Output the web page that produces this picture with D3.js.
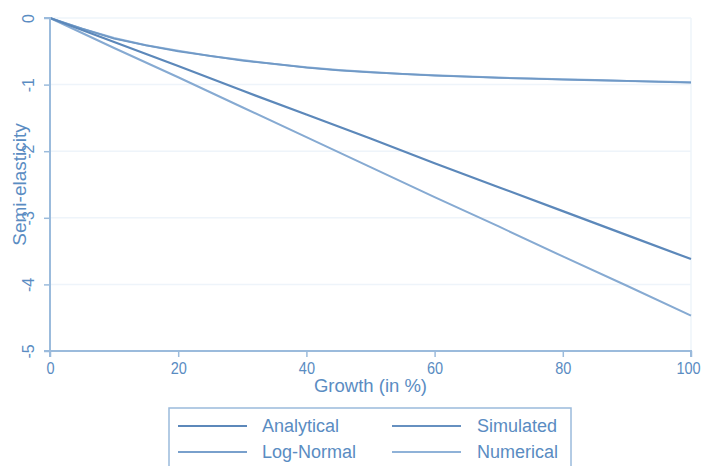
<!DOCTYPE html>
<html>
<head>
<meta charset="utf-8">
<script src="https://cdn.jsdelivr.net/npm/d3@7"></script>
<style>
  html, body { margin: 0; padding: 0; background: #ffffff; }
  svg { display: block; font-family: "Liberation Sans", Arial, sans-serif; }
</style>
</head>
<body>
<svg id="chart" width="702" height="466"></svg>
<script>
// Growth rates (in %) at which each semi-elasticity was evaluated
const growthFine = [0, 5, 10, 15, 20, 25, 30, 35, 40, 45, 50, 55, 60, 65, 70, 75, 80, 85, 90, 95, 100];
const growthCoarse = [0, 10, 20, 30, 40, 50, 60, 70, 80, 90, 100];

// Semi-elasticity estimates per method
const analytical = [0, -0.36, -0.72, -1.09, -1.45, -1.81, -2.18, -2.54, -2.90, -3.26, -3.62];
const logNormal  = [0, -0.45, -0.89, -1.34, -1.79, -2.24, -2.69, -3.13, -3.58, -4.02, -4.47];
const simulated  = [0, -0.16, -0.31, -0.41, -0.50, -0.57, -0.64, -0.69, -0.745, -0.785, -0.815,
                    -0.84, -0.865, -0.88, -0.90, -0.91, -0.925, -0.935, -0.945, -0.96, -0.97];
const numerical  = [0, -0.16, -0.30, -0.41, -0.49, -0.57, -0.63, -0.69, -0.74, -0.78, -0.81,
                    -0.84, -0.86, -0.88, -0.895, -0.91, -0.92, -0.93, -0.945, -0.955, -0.965];

// Axis ticks
const xTicks = [0, 20, 40, 60, 80, 100];
const yTicks = [0, -1, -2, -3, -4, -5];

const legendNames = ["Analytical", "Simulated", "Log-Normal", "Numerical"];

const textColor = "#5a8cc2";
const axisColor = "#9bbbdc";
const gridColor = "#eef4fa";

const series = [
  { name: "Numerical",  x: growthFine,   y: numerical,  color: "#8fb2d8", width: 2 },
  { name: "Simulated",  x: growthFine,   y: simulated,  color: "#7099c6", width: 1.8 },
  { name: "Log-Normal", x: growthCoarse, y: logNormal,  color: "#86aad2", width: 2 },
  { name: "Analytical", x: growthCoarse, y: analytical, color: "#5c88ba", width: 2.2 }
];

const svg = d3.select("#chart");
const plotLeft = 50, plotRight = 691, plotTop = 18, plotBottom = 351;

const x = d3.scaleLinear().domain([0, 100]).range([plotLeft, plotRight]);
const y = d3.scaleLinear().domain([-5, 0]).range([plotBottom, plotTop]);

// Plain hyphen for negative tick labels
const plainFormat = d => String(d);

// Horizontal grid lines and faint plot frame
svg.append("g").selectAll("line").data(yTicks.filter(d => d !== -5)).join("line")
  .attr("x1", plotLeft).attr("x2", plotRight)
  .attr("y1", d => y(d)).attr("y2", d => y(d))
  .attr("stroke", gridColor).attr("stroke-width", 1.5);
svg.append("line")
  .attr("x1", plotRight).attr("x2", plotRight).attr("y1", plotTop).attr("y2", plotBottom)
  .attr("stroke", gridColor).attr("stroke-width", 1.5);

// Series lines
const line = d3.line();
series.forEach(s => {
  svg.append("path")
    .attr("d", line(s.x.map((g, i) => [x(g), y(s.y[i])])))
    .attr("fill", "none")
    .attr("stroke", s.color)
    .attr("stroke-width", s.width)
    .attr("stroke-linejoin", "round");
});

// X axis
const xAxis = svg.append("g").attr("transform", `translate(0,${plotBottom})`)
  .call(d3.axisBottom(x).tickValues(xTicks).tickSize(6).tickPadding(5).tickFormat(plainFormat));
xAxis.select(".domain").attr("stroke", axisColor).attr("stroke-width", 2).attr("d", `M${plotLeft},6V0H${plotRight}V6`);
xAxis.selectAll(".tick line").attr("stroke", axisColor).attr("stroke-width", 1.5);
xAxis.selectAll(".tick text").attr("fill", textColor).attr("font-size", 16.5)
  .attr("font-family", "Liberation Sans, Arial, sans-serif")
  .attr("transform", (d, i, n) => i === n.length - 1 ? "translate(-3,0) scale(0.88,1)" : "scale(0.88,1)");

// Y axis with rotated tick labels
const yAxis = svg.append("g").attr("transform", `translate(${plotLeft},0)`)
  .call(d3.axisLeft(y).tickValues(yTicks).tickSize(6).tickFormat(plainFormat));
yAxis.select(".domain").attr("stroke", axisColor).attr("stroke-width", 2).attr("d", `M-6,${plotTop}H0V${plotBottom}H-6`);
yAxis.selectAll(".tick line").attr("stroke", axisColor).attr("stroke-width", 1.5);
yAxis.selectAll(".tick text")
  .attr("fill", textColor).attr("font-size", 16)
  .attr("font-family", "Liberation Sans, Arial, sans-serif")
  .attr("x", null).attr("dy", null)
  .attr("text-anchor", "middle")
  .attr("transform", "translate(-16.5,0) rotate(-90)");

// Axis titles
svg.append("text")
  .attr("x", (plotLeft + plotRight) / 2).attr("y", 392)
  .attr("text-anchor", "middle")
  .attr("fill", textColor).attr("font-size", 18.5)
  .text("Growth (in %)");
svg.append("text")
  .attr("transform", `translate(25.5,${(plotTop + plotBottom) / 2}) rotate(-90)`)
  .attr("text-anchor", "middle")
  .attr("fill", textColor).attr("font-size", 19)
  .text("Semi-elasticity");

// Legend
const legend = svg.append("g");
legend.append("rect")
  .attr("x", 169).attr("y", 408).attr("width", 402).attr("height", 90)
  .attr("fill", "#ffffff").attr("stroke", axisColor).attr("stroke-width", 1.5);
const legendColors = {
  "Analytical": "#5c88ba", "Simulated": "#6690c0", "Log-Normal": "#79a0cc", "Numerical": "#8fb2d8"
};
legendNames.forEach((name, i) => {
  const col = i % 2, row = Math.floor(i / 2);
  const lx = col === 0 ? 178 : 392;
  const tx = col === 0 ? 262 : 477;
  const ly = 426 + row * 26;
  legend.append("line")
    .attr("x1", lx).attr("x2", lx + 69).attr("y1", ly).attr("y2", ly)
    .attr("stroke", legendColors[name]).attr("stroke-width", 2);
  legend.append("text")
    .attr("x", tx).attr("y", ly + 6)
    .attr("fill", textColor).attr("font-size", 18)
    .text(name);
});
</script>
</body>
</html>
